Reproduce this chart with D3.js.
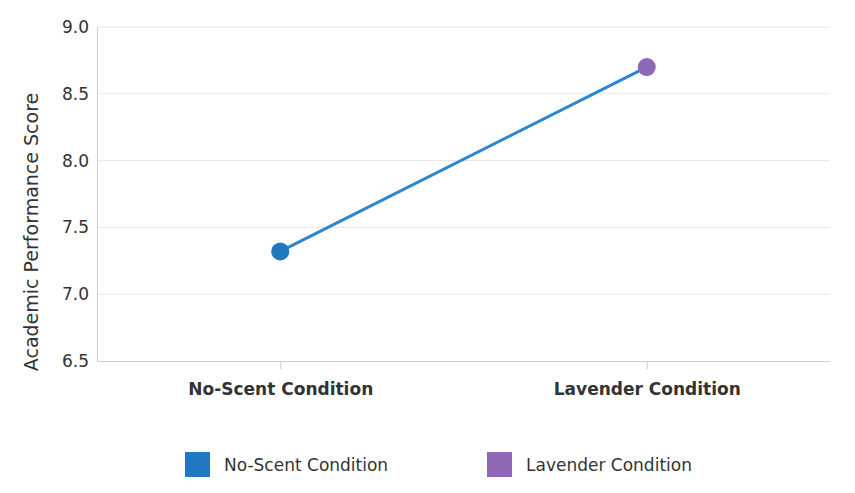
<!DOCTYPE html>
<html><head><meta charset="utf-8">
<script src="https://cdn.jsdelivr.net/npm/d3@7"></script>
<style>body{margin:0;background:#fff;font-family:"DejaVu Sans",sans-serif;}</style>
</head><body><svg id="c" width="855" height="493"></svg>
<script>
const categories = ["No-Scent Condition", "Lavender Condition"];
const scores = [7.32, 8.70];
const yTicks = [6.5, 7.0, 7.5, 8.0, 8.5, 9.0];
const colors = ["#1f78c1", "#8e67b5"];
const F = "DejaVu Sans";

const svg = d3.select("#c");
const m = {l: 97, r: 830, t: 27, b: 361};
const x = d3.scalePoint().domain(categories).range([m.l, m.r]).padding(0.5);
const y = d3.scaleLinear().domain([6.5, 9.0]).range([m.b, m.t]);

svg.append("g").selectAll("line").data(yTicks.slice(1)).join("line")
  .attr("x1", m.l).attr("x2", m.r).attr("y1", d => y(d)).attr("y2", d => y(d))
  .attr("stroke", "#e6e6e6");

const ya = svg.append("g").attr("transform", `translate(${m.l},0)`)
  .call(d3.axisLeft(y).tickValues(yTicks).tickFormat(d3.format(".1f")).tickSize(0).tickPadding(8));
ya.select(".domain").attr("stroke", "#ccc");
ya.selectAll("text").attr("font-size", 17).attr("fill", "#333").attr("font-family", F);

const xa = svg.append("g").attr("transform", `translate(0,${m.b})`)
  .call(d3.axisBottom(x).tickSize(8).tickSizeOuter(0).tickPadding(14));
xa.select(".domain").attr("stroke", "#ccc");
xa.selectAll("line").attr("stroke", "#ccc");
xa.selectAll("text").attr("font-size", 17).attr("fill", "#333").attr("font-weight", 600).attr("font-family", F);

svg.append("text").attr("transform", `translate(38,${(m.t+m.b)/2+38}) rotate(-90)`)
  .attr("text-anchor", "middle").attr("font-size", 19).attr("fill", "#333").attr("font-family", F)
  .text("Academic Performance Score");

const pts = categories.map((c, i) => ({c, v: scores[i], col: colors[i]}));
svg.append("path").datum(pts)
  .attr("d", d3.line().x(d => x(d.c)).y(d => y(d.v)))
  .attr("fill", "none").attr("stroke", "#2a86d0").attr("stroke-width", 3);
svg.selectAll("circle.p").data(pts).join("circle")
  .attr("cx", d => x(d.c)).attr("cy", d => y(d.v)).attr("r", 9).attr("fill", d => d.col);

const lg = svg.append("g");
const lx = [185, 487];
pts.forEach((d, i) => {
  lg.append("rect").attr("x", lx[i]).attr("y", 452).attr("width", 25).attr("height", 25).attr("fill", d.col);
  lg.append("text").attr("x", lx[i] + 39).attr("y", 471).attr("font-size", 17).attr("fill", "#333").attr("font-family", F).text(d.c);
});
</script></body></html>
